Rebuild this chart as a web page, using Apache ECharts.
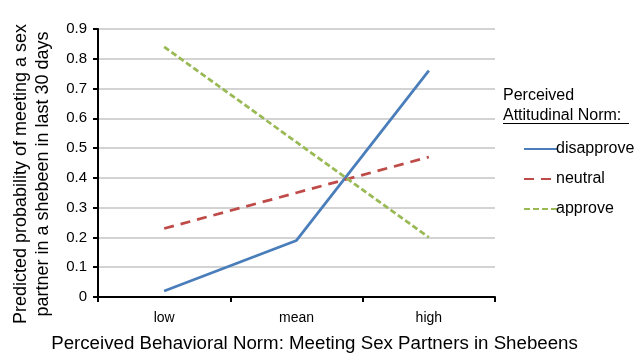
<!DOCTYPE html>
<html>
<head>
<meta charset="utf-8">
<script src="https://cdn.jsdelivr.net/npm/echarts@6/dist/echarts.min.js"></script>
<style>html,body{margin:0;padding:0;background:#fff}#c{width:635px;height:354px}</style>
</head>
<body>
<div id="c"></div>
<script>
const categories = ['low', 'mean', 'high'];
const disapprove = [0.02, 0.19, 0.76];
const neutral = [0.23, 0.35, 0.47];
const approve = [0.84, 0.52, 0.20];
const yTicks = [0, 0.1, 0.2, 0.3, 0.4, 0.5, 0.6, 0.7, 0.8, 0.9];
const seriesNames = ['disapprove', 'neutral', 'approve'];

const font = 'Liberation Sans, Arial, sans-serif';
const chart = echarts.init(document.getElementById('c'));
chart.setOption({
  animation: false,
  backgroundColor: '#fff',
  grid: { left: 98, right: 140, top: 29, bottom: 57, containLabel: false, outerBoundsMode: 'none' },
  xAxis: {
    type: 'category',
    data: categories,
    boundaryGap: true,
    name: 'Perceived Behavioral Norm: Meeting Sex Partners in Shebeens',
    nameLocation: 'middle',
    nameGap: 37,
    nameTextStyle: { fontFamily: font, fontSize: 18.7, color: '#000', padding: [0, 0, 0, 36] },
    axisLine: { lineStyle: { color: '#000', width: 2 } },
    axisTick: { show: true, length: 5, lineStyle: { color: '#000', width: 2 } },
    axisLabel: { fontFamily: font, fontSize: 14, color: '#000', margin: 14 }
  },
  yAxis: {
    type: 'value',
    min: 0, max: 0.9, interval: 0.1,
    axisLine: { show: true, lineStyle: { color: '#000', width: 2 } },
    axisTick: { show: true, length: 5, lineStyle: { color: '#000', width: 2 } },
    axisLabel: {
      fontFamily: font, fontSize: 15, color: '#000', margin: 11,
      formatter: v => {
        const m = yTicks.find(t => Math.abs(t - v) < 1e-9);
        return m === undefined ? '' : String(m);
      }
    },
    splitLine: { show: true, lineStyle: { color: '#c4c4c4', width: 1.5 } }
  },
  legend: {
    orient: 'vertical',
    left: 518,
    top: 136,
    itemGap: 14,
    itemWidth: 34,
    itemHeight: 18,
    itemStyle: { opacity: 0 },
    textStyle: { fontFamily: font, fontSize: 16, color: '#000', padding: [0, 0, 0, -7] },
    data: seriesNames
  },
  graphic: [
    { type: 'text', x: 32, y: 174, rotation: Math.PI / 2,
      style: { text: 'Predicted probability of meeting a sex\npartner in a shebeen in last 30 days',
               font: '18px ' + font, fill: '#000', align: 'center', verticalAlign: 'middle', lineHeight: 22 } },
    { type: 'text', left: 503, top: 88, style: { text: 'Perceived', font: '16px ' + font, fill: '#000' } },
    { type: 'text', left: 503, top: 108, style: { text: 'Attitudinal Norm:', font: '16px ' + font, fill: '#000' } },
    { type: 'line', shape: { x1: 503, y1: 123.5, x2: 629, y2: 123.5 }, style: { stroke: '#000', lineWidth: 1 } }
  ],
  series: [
    { name: seriesNames[0], type: 'line', data: disapprove, symbol: 'none', showSymbol: false,
      lineStyle: { color: '#4a7ebb', width: 2.75, type: 'solid' }, itemStyle: { color: '#4a7ebb' } },
    { name: seriesNames[1], type: 'line', data: neutral, symbol: 'none', showSymbol: false,
      lineStyle: { color: '#be4b48', width: 2.75, type: [10, 7] }, itemStyle: { color: '#be4b48' } },
    { name: seriesNames[2], type: 'line', data: approve, symbol: 'none', showSymbol: false,
      lineStyle: { color: '#98b954', width: 2.75, type: [6, 3] }, itemStyle: { color: '#98b954' } }
  ]
});
</script>
</body>
</html>
